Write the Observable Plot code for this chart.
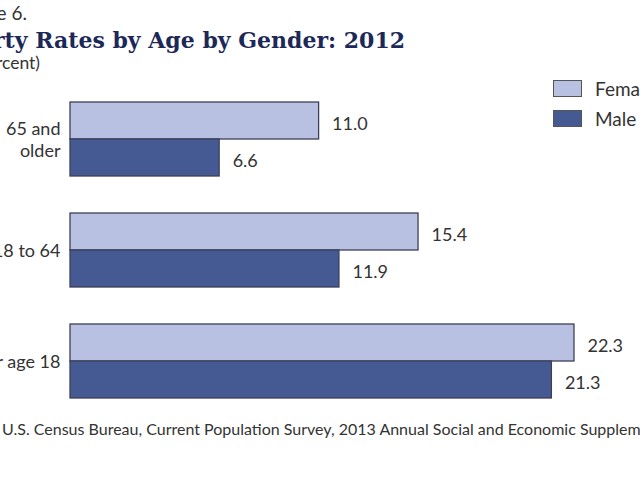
<!DOCTYPE html>
<html><head><meta charset="utf-8">
<script src="https://cdn.jsdelivr.net/npm/d3@7"></script>
<script src="https://cdn.jsdelivr.net/npm/@observablehq/plot@0.6"></script>
<style>
html,body{margin:0;padding:0;background:#fff;overflow:hidden;}
#page{position:relative;width:640px;height:480px;overflow:hidden;font-family:Lato, sans-serif;color:#333;}
.clip{position:absolute;white-space:nowrap;line-height:1;}
.sw{position:absolute;width:27px;height:15px;border:1.5px solid #555;}
.lt{position:absolute;font-size:19px;line-height:1;white-space:nowrap;}
</style></head><body><div id="page">
<div class="clip" style="right:613px;top:3px;font-size:19px;">Figure 6.</div>
<div class="clip" style="right:235px;top:27px;font:bold 22px 'DejaVu Serif';color:#1c2858">Poverty Rates by Age by Gender: 2012</div>
<div class="clip" style="right:600px;top:54px;font-size:17.5px">(In percent)</div>
<div id="chart" style="position:absolute;left:0;top:80px"></div>
<div id="legend"></div>
<div class="clip" style="left:2px;top:421px;font-size:16px"><span style="position:absolute;right:100%">Source:&nbsp;</span>U.S. Census Bureau, Current Population Survey, 2013 Annual Social and Economic Supplement.</div>
</div>
<script>
const ages = ["65 and older", "18 to 64", "Under age 18"];
const ageLabels = ["65 and\nolder", "18 to 64", "Under age 18"];
const genders = ["Female", "Male"];
const female = [11.0, 15.4, 22.3];
const male = [6.6, 11.9, 21.3];
const colors = ["#b9c1e3", "#455a93"];

const rows = ages.flatMap((a, i) => [
  {age: a, gender: "Female", value: female[i]},
  {age: a, gender: "Male", value: male[i]}
]);

const chart = Plot.plot({
  width: 640, height: 340,
  marginTop: 20, marginBottom: 20, marginLeft: 70, marginRight: 5,
  style: {fontFamily: "Lato, sans-serif", background: "transparent"},
  x: {domain: [0, 25], axis: null},
  y: {domain: genders, axis: null, padding: 0},
  fy: {domain: ages, axis: null, paddingInner: 0.3214, paddingOuter: 0},
  color: {domain: genders, range: colors},
  marks: [
    Plot.barX(rows, {x: "value", y: "gender", fy: "age", fill: "gender", stroke: "#3c4058", strokeWidth: 1.3}),
    Plot.text(rows, {x: "value", y: "gender", fy: "age", text: d => d.value.toFixed(1), textAnchor: "start", dx: 13, dy: 3, fontSize: 18, fill: "#333"}),
    Plot.text(ages, {fy: d => d, frameAnchor: "left", text: (d, i) => ageLabels[i], textAnchor: "end", dx: -10, fontSize: 18, lineHeight: 1.25, fill: "#333"})
  ]
});
document.getElementById("chart").appendChild(chart);

const legend = document.getElementById("legend");
genders.forEach((g, i) => {
  const sw = document.createElement("div");
  sw.className = "sw";
  sw.style.left = "553px";
  sw.style.top = (80 + i * 30) + "px";
  sw.style.background = colors[i];
  legend.appendChild(sw);
  const t = document.createElement("div");
  t.className = "lt";
  t.style.left = "595px";
  t.style.top = (79 + i * 30) + "px";
  t.textContent = g;
  legend.appendChild(t);
});
</script>
</body></html>
